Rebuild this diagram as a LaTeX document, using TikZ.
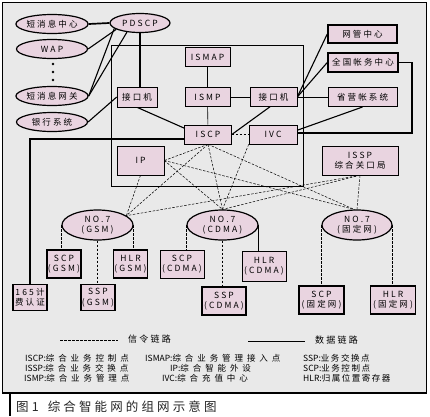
\documentclass[tikz,border=0pt]{standalone}
\usepackage{fontspec}
\usetikzlibrary{shapes.geometric,calc}
\newfontfamily\fN[LetterSpace=25]{Noto Sans CJK SC}
\newfontfamily\fL{Noto Sans CJK SC}
\newfontfamily\fW[LetterSpace=46]{Noto Sans CJK SC}
\newfontfamily\fM[LetterSpace=18]{Noto Sans CJK SC}
\definecolor{bggray}{RGB}{233,233,233}
\definecolor{pinkf}{RGB}{233,212,224}
\pgfdeclarelayer{back}
\pgfdeclarelayer{edges}
\pgfsetlayers{back,edges,main}
\begin{document}
\begin{tikzpicture}[x=1pt,y=-1pt,
  sz/.style 2 args={minimum width=#1pt,minimum height=#2pt},
  box/.style={rectangle,draw,fill=pinkf,line width=0.6pt,inner sep=0pt,align=center,font=\fN\fontsize{8.5}{10.5}\selectfont},
  tbox/.style={box,line width=1.5pt},
  mbox/.style={box,line width=1.0pt},
  ell/.style={ellipse,draw,fill=pinkf,line width=1.2pt,inner sep=0pt,align=center,font=\fN\fontsize{8.5}{10.5}\selectfont},
  sig/.style={line width=0.5pt,dash pattern=on 2.5pt off 1.5pt},
  dat/.style={line width=0.6pt},
  datm/.style={line width=1.1pt},
  datt/.style={line width=1.7pt},
  leg/.style={anchor=west,inner sep=0pt,font=\fontsize{8.5}{10}\selectfont},
  dot/.style={circle,fill,inner sep=0pt,minimum size=2.6pt}
]
\useasboundingbox (0,0) rectangle (430,416);
\begin{pgfonlayer}{back}
  \fill[white] (0,0) rectangle (430,416);
  \filldraw[fill=bggray,line width=1.8pt] (2.5,2.5) rectangle (426.5,393);
  \draw[line width=1.8pt] (10,393) -- (10,416);
  \draw[line width=0.6pt] (111,45) rectangle (303,186);
\end{pgfonlayer}

% left ellipses
\node[ell,sz={71}{19}] (smc) at (52,24) {短消息中心};
\node[ell,sz={71}{19}] (wap) at (52,49) {WAP};
\node[dot] (d1) at (53,64) {};
\node[dot] (d2) at (53,72) {};
\node[dot] (d3) at (53,80) {};
\node[ell,sz={71}{19}] (gw) at (52,96) {短消息网关};
\node[ell,sz={71}{19}] (bank) at (52,122) {银行系统};
\node[ell,sz={60}{19}] (pdscp) at (140,23) {PDSCP};

% inner boxes
\node[box,sz={40}{20}] (jk1) at (137,97) {接口机};
\node[box,sz={45}{19}] (ismap) at (207.5,57) {ISMAP};
\node[box,sz={45}{19}] (ismp) at (207.5,97) {ISMP};
\node[box,sz={47}{19}] (iscp) at (208,134.5) {ISCP};
\node[box,sz={47}{19}] (jk2) at (273.5,97) {接口机};
\node[box,sz={48}{19}] (ivc) at (273,134.5) {IVC};
\node[box,sz={47}{29}] (ip) at (140.5,160.5) {IP};

% right boxes
\node[tbox,sz={69}{18}] (wg) at (362.5,34) {网管中心};
\node[tbox,sz={70}{19}] (qg) at (363,62.5) {全国帐务中心};
\node[mbox,sz={69}{19}] (sy) at (362.5,97) {省营帐系统};
\node[box,sz={76}{29}] (issp) at (360,160.5) {ISSP\\综合关口局};

% NO.7 networks
\node[ell,sz={71}{30}] (gsm) at (97.5,225) {NO.7\\(GSM)};
\node[ell,sz={71}{30}] (cdma) at (222.5,225) {NO.7\\(CDMA)};
\node[ell,sz={70}{30}] (fix) at (357,225) {NO.7\\(固定网)};

% bottom boxes
\node[tbox,sz={34}{28}] (scpg) at (64,264) {SCP\\(GSM)};
\node[tbox,sz={34}{28}] (hlrg) at (130.5,264) {HLR\\(GSM)};
\node[box,sz={44}{28}] (scpc) at (182,264) {SCP\\(CDMA)};
\node[box,sz={44}{30}] (hlrc) at (264,266) {HLR\\(CDMA)};
\node[tbox,sz={34}{26}] (c165) at (30,297.5) {165计\\费认证};
\node[tbox,sz={34}{26}] (sspg) at (98,297.5) {SSP\\(GSM)};
\node[tbox,sz={44}{28}] (sspc) at (224,301) {SSP\\(CDMA)};
\node[tbox,sz={45}{28}] (scpf) at (321.5,300) {SCP\\(固定网)};
\node[tbox,sz={45}{28}] (hlrf) at (393,300) {HLR\\(固定网)};

\coordinate (k1) at (30,139);
\coordinate (k3) at (412,133);

\begin{pgfonlayer}{edges}
  % data links
  \draw[datt] (smc.east) -- (pdscp.west);
  \draw[datm] (wap.east) -- (pdscp.195);
  \draw[datm] (gw.east) -- (pdscp.192);
  \draw[datm] (gw.east) -- (pdscp.215);
  \draw[datt] (pdscp.south) -- (pdscp.south |- jk1.north);
  \draw[datm] (bank.east) -- (jk1.west);
  \draw[datm] (jk1.south) -- (iscp.165);
  \draw[dat] (ismap) -- (ismp) -- (iscp);
  \draw[dat] (ismp) -- (jk2) -- (sy);
  \draw[datm] (jk2.east) -- (wg.west);
  \draw[datm] (jk2.east) -- (qg.west);
  \draw[datm] (jk2.250) -- (iscp.east);
  \draw[datm] (sy.south) -- (ivc.10);
  \draw[datt] (qg.east) -| (k3) -- (ivc.east |- k3);
  \draw[datt] (iscp |- k1) -- (k1) -- (c165.north);
  \draw[dat] (cdma.east) -- (cdma.east |- hlrc.north);
  % signalling links
  \draw[sig] (iscp) -- (ivc);
  \draw[sig] (iscp.south) -- (ip.east);
  \draw[sig] (iscp.south) -- (gsm.18);
  \draw[sig] (iscp.south) -- (cdma.north);
  \draw[sig] (iscp.south) -- (fix.100);
  \draw[sig] (ip.east) -- (cdma.north);
  \draw[sig] (ip.east) -- (fix.100);
  \draw[sig] (ip.south) -- (gsm.18);
  \draw[sig] (ivc.south west) -- (cdma.north);
  \draw[sig] (issp.south) -- (gsm.18);
  \draw[sig] (issp.south) -- (cdma.north);
  \draw[sig] (issp.south) -- (fix.north);
  \draw[sig] (gsm.west) -- (gsm.west |- scpg.north);
  \draw[sig] (gsm.south) -- (gsm.south |- sspg.north);
  \draw[sig] (gsm.east) -- (gsm.east |- hlrg.north);
  \draw[sig] (cdma.west) -- (cdma.west |- scpc.north);
  \draw[sig] (cdma.south) -- (cdma.south |- sspc.north);
  \draw[sig] (fix.west) -- (fix.west |- scpf.north);
  \draw[sig] (fix.east) -- (fix.east |- hlrf.north);
\end{pgfonlayer}

% legend
\coordinate (la) at (60,340);
\coordinate (lb) at (118,340);
\coordinate (lc) at (248,341);
\coordinate (ld) at (305,341);
\draw[sig] (la) -- (lb);
\draw[dat] (lc) -- (ld);
\node[leg,font=\fN\fontsize{9}{10}\selectfont] (lt1) at (128,339) {信令链路};
\node[leg,font=\fN\fontsize{9}{10}\selectfont] (lt2) at (315,340) {数据链路};

\node[leg] (g1) at (25,358) {{\fL ISCP:}{\fW 综合业务控制点}};
\node[leg] (g2) at (25,368) {{\fL ISSP:}{\fW 综合业务交换点}};
\node[leg] (g3) at (24,378) {{\fL ISMP:}{\fW 综合业务管理点}};
\node[leg] (g4) at (145,358) {{\fL ISMAP:}{\fW 综合业务管理接入点}};
\node[leg] (g5) at (170,368) {{\fL IP:}{\fW 综合智能外设}};
\node[leg] (g6) at (162,378) {{\fL IVC:}{\fW 综合充值中心}};
\node[leg] (g7) at (303,358) {{\fL SSP:}{\fM 业务交换点}};
\node[leg] (g8) at (303,368) {{\fL SCP:}{\fM 业务控制点}};
\node[leg] (g9) at (303,378) {{\fL HLR:}{\fM 归属位置寄存器}};

% caption
\node[anchor=west,inner sep=0pt,text=black!85,font=\fN\fontsize{12.5}{14}\selectfont] (cap) at (16,407) {图1\hspace{9pt}综合智能网的组网示意图};
\end{tikzpicture}
\end{document}
